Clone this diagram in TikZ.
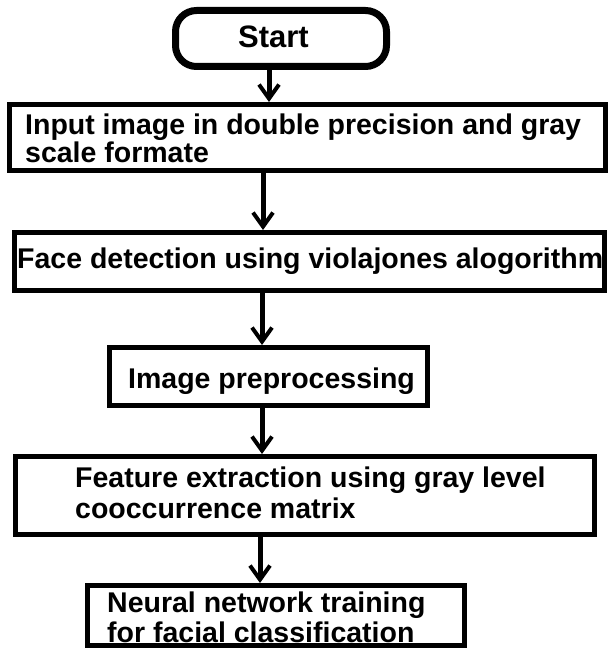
\documentclass[tikz,border=0pt]{standalone}
\usepackage{fontspec}
\setmainfont{Liberation Sans}
\usetikzlibrary{arrows.meta}

% two lines, baseline of the first one kept, fixed line distance
\newcommand\twolines[3]{\vtop{\baselineskip=#1\lineskiplimit=-100pt\relax
  \hbox{#2}\hbox{#3}}}

\begin{document}
\begin{tikzpicture}[x=1pt,y=-1pt,
    stepbox/.style={draw=black, line width=5pt, fill=white, inner sep=0pt},
    startbox/.style={draw=black, line width=7pt, rounded corners=21pt, fill=white, inner sep=0pt},
    label/.style={anchor=base west, inner sep=0pt, font=\fontsize{28.5pt}{30pt}\selectfont\bfseries},
    flow/.style={line width=5pt, -{Straight Barb[length=14pt,width=20pt,line width=4pt]}}]
  \useasboundingbox[fill=white] (0,0) rectangle (609,650);

  % boxes
  \node[startbox, minimum width=211pt, minimum height=56pt] (start) at (281,38.5) {};
  \node[stepbox, minimum width=596pt, minimum height=66pt] (b1) at (307.5,137.5) {};
  \node[stepbox, minimum width=590pt, minimum height=58pt] (b2) at (309.5,261.5) {};
  \node[stepbox, minimum width=318pt, minimum height=58pt] (b3) at (268.5,376.5) {};
  \node[stepbox, minimum width=579pt, minimum height=78pt] (b4) at (305,495.5) {};
  \node[stepbox, minimum width=377pt, minimum height=60pt] (b5) at (276,615.5) {};

  % texts
  \node[label, font=\fontsize{31pt}{32pt}\selectfont\bfseries] (ts) at (238,48) {Start};
  \node[label] (t1) at (25,135)
    {\twolines{27.5pt}{Input image in double precision and gray}{scale formate}};
  \node[label] (t2) at (17,268) {Face detection using violajones alogorithm};
  \node[label] (t3) at (128,388) {Image preprocessing};
  \node[label] (t4) at (75,487)
    {\twolines{31pt}{Feature extraction using gray level}{cooccurrence matrix}};
  \node[label] (t5) at (107,612)
    {\twolines{30pt}{Neural network training}{for facial classification}};

  % connector columns
  \coordinate (c1) at (269,0);
  \coordinate (c2) at (263,0);
  \coordinate (c3) at (262,0);
  \coordinate (c4) at (262,0);
  \coordinate (c5) at (260,0);

  \draw[flow] (start.south -| c1) -- (b1.north -| c1);
  \draw[flow] (b1.south -| c2) -- (b2.north -| c2);
  \draw[flow] (b2.south -| c3) -- (b3.north -| c3);
  \draw[flow] (b3.south -| c4) -- (b4.north -| c4);
  \draw[flow] (b4.south -| c5) -- (b5.north -| c5);
\end{tikzpicture}
\end{document}
